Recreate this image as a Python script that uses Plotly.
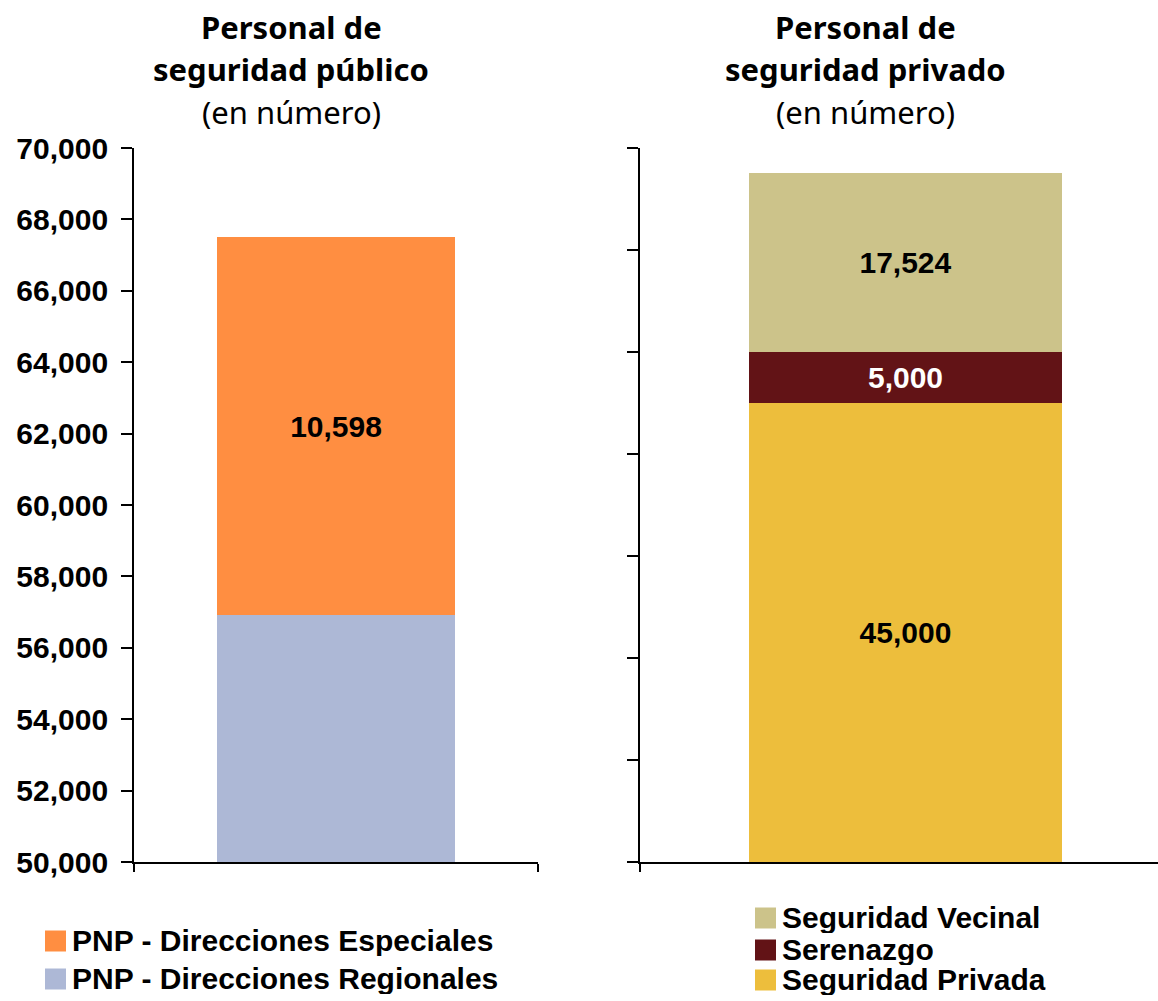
import plotly.graph_objects as go

W, H = 1158, 1001

# ---- data ----
pub_names = ["PNP - Direcciones Regionales", "PNP - Direcciones Especiales"]
pub_values = [56913, 10598]
pub_colors = ["#ADB8D6", "#FF8E41"]

priv_names = ["Seguridad Privada", "Serenazgo", "Seguridad Vecinal"]
priv_values = [45000, 5000, 17524]
priv_colors = ["#EDBE3C", "#621316", "#CCC38A"]
priv_text_colors = ["black", "white", "black"]

pub_title = ["Personal de", "seguridad público", "(en número)"]
priv_title = ["Personal de", "seguridad privado", "(en número)"]

def px(x):
    return x / W

def py(y):
    return 1 - y / H

BAR_W = 0.59
num_font = dict(family="Liberation Sans, Arial, sans-serif", size=30, color="black", weight="bold")

fig = go.Figure()

for name, val, col in zip(pub_names, pub_values, pub_colors):
    fig.add_trace(go.Bar(
        x=[0], y=[val], name=name, marker=dict(color=col, line=dict(width=0)),
        width=BAR_W, xaxis="x", yaxis="y",
        text=[f"{val:,}"], textposition="inside", insidetextanchor="middle",
        textfont=num_font, constraintext="none", showlegend=False,
    ))

for name, val, col, tc in zip(priv_names, priv_values, priv_colors, priv_text_colors):
    f = dict(num_font)
    f["color"] = tc
    fig.add_trace(go.Bar(
        x=[0], y=[val], name=name, marker=dict(color=col, line=dict(width=0)),
        width=BAR_W, xaxis="x2", yaxis="y2",
        text=[f"{val:,}"], textposition="inside", insidetextanchor="middle",
        textfont=f, constraintext="none", showlegend=False,
    ))

axis_common = dict(showgrid=False, zeroline=False, showline=True, linecolor="black",
                   linewidth=1.8, ticks="outside", tickcolor="black", tickwidth=1.8,
                   automargin=False)

ydom = [py(862), py(148)]

fig.update_layout(
    width=W, height=H, margin=dict(l=0, r=0, t=0, b=0),
    paper_bgcolor="white", plot_bgcolor="white",
    barmode="stack", showlegend=False,
    xaxis=dict(domain=[px(134), px(538)], range=[-0.5, 0.5], tickvals=[-0.5, 0.5],
               ticktext=["", ""], ticklen=8, anchor="y", **axis_common),
    yaxis=dict(domain=ydom, range=[50000, 70000], dtick=2000, tick0=50000,
               tickformat=",d", ticklen=11, anchor="x", ticklabelstandoff=7,
               tickfont=dict(family="Liberation Sans, Arial, sans-serif", size=30,
                             color="black", weight="bold"),
               **axis_common),
    xaxis2=dict(domain=[px(640), 1.0], range=[-0.5, 0.4756], tickvals=[-0.5, 0.5],
                ticktext=["", ""], ticklen=8, anchor="y2", **axis_common),
    yaxis2=dict(domain=ydom, range=[0, 70000], dtick=10000, showticklabels=False,
                ticklen=11, anchor="x2", **axis_common),
)

# ---- titles ----
title_font_b = dict(family="Noto Sans, sans-serif", size=31, color="black", weight="bold")
title_font_r = dict(family="Noto Sans, sans-serif", size=31, color="black")
for cx, lines in ((291, pub_title), (865, priv_title)):
    for i, (txt, yy) in enumerate(zip(lines, (27, 69, 112))):
        fig.add_annotation(
            x=px(cx), y=py(yy), xref="paper", yref="paper", text=txt, showarrow=False,
            xanchor="center", yanchor="middle",
            font=title_font_b if i < 2 else title_font_r,
        )

# ---- legends (manual) ----
leg_font = dict(family="Liberation Sans, Arial, sans-serif", size=30, color="black", weight="bold")

def legend_item(x0, yc, color, label):
    fig.add_shape(type="rect", xref="paper", yref="paper",
                  x0=px(x0), x1=px(x0 + 21), y0=py(yc + 10.5), y1=py(yc - 10.5),
                  fillcolor=color, line=dict(width=0))
    fig.add_annotation(x=px(x0 + 26), y=py(yc - 1), xref="paper", yref="paper", text=label,
                       showarrow=False, xanchor="left", yanchor="middle", font=leg_font,
                       height=32, borderpad=0, valign="middle")

for name, col, yc in zip(pub_names[::-1], pub_colors[::-1], (941, 979)):
    legend_item(45, yc, col, name)

for name, col, yc in zip(priv_names[::-1], priv_colors[::-1], (918, 950, 980)):
    legend_item(755, yc, col, name)

fig.write_html("out.html", include_plotlyjs=True, config={"displayModeBar": False},
               post_script="document.body.style.margin='0';document.body.style.overflow='hidden';")
